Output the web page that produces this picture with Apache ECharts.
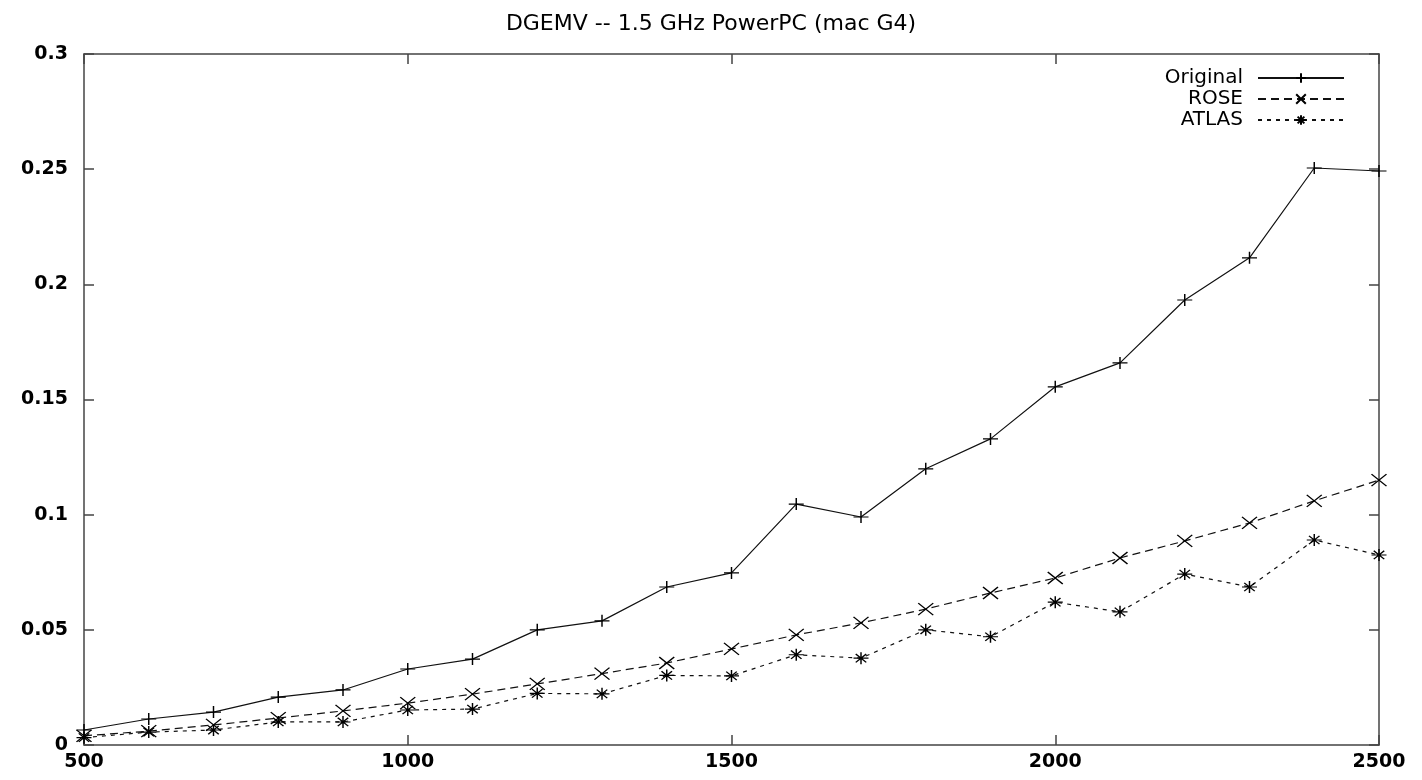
<!DOCTYPE html>
<html>
<head>
<meta charset="utf-8">
<script src="https://cdn.jsdelivr.net/npm/echarts@6/dist/echarts.min.js"></script>
<style>
html,body{margin:0;padding:0;background:#fff;}
#chart{width:1422px;height:780px;}
</style>
</head>
<body>
<div id="chart"></div>
<script>
const sizes = [500,600,700,800,900,1000,1100,1200,1300,1400,1500,1600,1700,1800,1900,2000,2100,2200,2300,2400,2500];
const original = [0.0065,0.0113,0.0143,0.0208,0.0239,0.033,0.0373,0.050,0.0539,0.0686,0.0747,0.1046,0.099,0.1199,0.1329,0.1555,0.1659,0.1932,0.2115,0.2505,0.2492];
const rose = [0.004,0.006,0.0087,0.0117,0.0148,0.0182,0.0221,0.0265,0.031,0.0356,0.0417,0.0478,0.053,0.059,0.066,0.0725,0.0812,0.0886,0.0964,0.106,0.115];
const atlas = [0.0032,0.0056,0.0065,0.010,0.010,0.0152,0.0156,0.0224,0.0222,0.0302,0.030,0.0392,0.0377,0.050,0.047,0.062,0.0578,0.0742,0.0686,0.089,0.0825];
const seriesNames = ['Original','ROSE','ATLAS'];
const titleText = 'DGEMV -- 1.5 GHz PowerPC (mac G4)';

const PLUS = 'path://M5,0L5,10M0,5L10,5';
const CROSS = 'path://M0,0L10,10M10,0L0,10';
const STAR = 'path://M5,0L5,10M0,5L10,5M1.5,1.5L8.5,8.5M8.5,1.5L1.5,8.5';

function pairs(vals){ return sizes.map((s,i)=>[s, vals[i]]); }

const axisColor = '#444';
const labelFont = {fontFamily:'DejaVu Sans', fontWeight:'bold', fontSize:19, color:'#000'};

function mkSeries(name, vals, symbol, dash){
  return {
    name: name, type:'line', data: pairs(vals),
    symbol: symbol, symbolSize:[15,12],
    showSymbol:true,
    lineStyle:{color:'#111', width:1.2, type: dash},
    itemStyle:{color:'#000', borderColor:'#000', borderWidth:1.3},
    emphasis:{disabled:true},
    animation:false
  };
}

const chart = echarts.init(document.getElementById('chart'), null, {renderer:'canvas'});
chart.setOption({
  backgroundColor:'#fff',
  animation:false,
  title:{
    text: titleText, left:'center', top:8,
    textStyle:{fontFamily:'DejaVu Sans', fontWeight:'normal', fontSize:22, color:'#000'}
  },
  legend:{
    orient:'vertical', right:72, top:63, align:'right',
    itemWidth:86, itemHeight:12, itemGap:1,
    textStyle:{fontFamily:'DejaVu Sans', fontSize:20, color:'#000', padding:[0,10,0,0]},
    data: seriesNames,
    selectedMode:false
  },
  grid:{left:84, right:43, top:54, bottom:35, containLabel:false},
  xAxis:[{
    type:'value', min:500, max:2500, interval:500,
    axisLine:{show:true, lineStyle:{color:axisColor, width:1.5}},
    axisTick:{show:true, inside:true, length:10, lineStyle:{color:axisColor, width:1.5}},
    splitLine:{show:false},
    axisLabel:Object.assign({margin:8, formatter:function(v){return String(v);}}, labelFont)
  },{
    type:'value', position:'top', min:500, max:2500, interval:500,
    axisLine:{show:true, onZero:false, lineStyle:{color:axisColor, width:1.5}},
    axisTick:{show:true, inside:true, length:10, lineStyle:{color:axisColor, width:1.5}},
    splitLine:{show:false}, axisLabel:{show:false}
  }],
  yAxis:[{
    type:'value', min:0, max:0.3, interval:0.05,
    axisLine:{show:true, lineStyle:{color:axisColor, width:1.5}},
    axisTick:{show:true, inside:true, length:10, lineStyle:{color:axisColor, width:1.5}},
    splitLine:{show:false},
    axisLabel:Object.assign({margin:16}, labelFont)
  },{
    type:'value', position:'right', min:0, max:0.3, interval:0.05,
    axisLine:{show:true, onZero:false, lineStyle:{color:axisColor, width:1.5}},
    axisTick:{show:true, inside:true, length:10, lineStyle:{color:axisColor, width:1.5}},
    splitLine:{show:false}, axisLabel:{show:false}
  }],
  series:[
    mkSeries(seriesNames[0], original, PLUS, 'solid'),
    mkSeries(seriesNames[1], rose, CROSS, [8,5]),
    mkSeries(seriesNames[2], atlas, STAR, [4,5])
  ]
});
</script>
</body>
</html>
